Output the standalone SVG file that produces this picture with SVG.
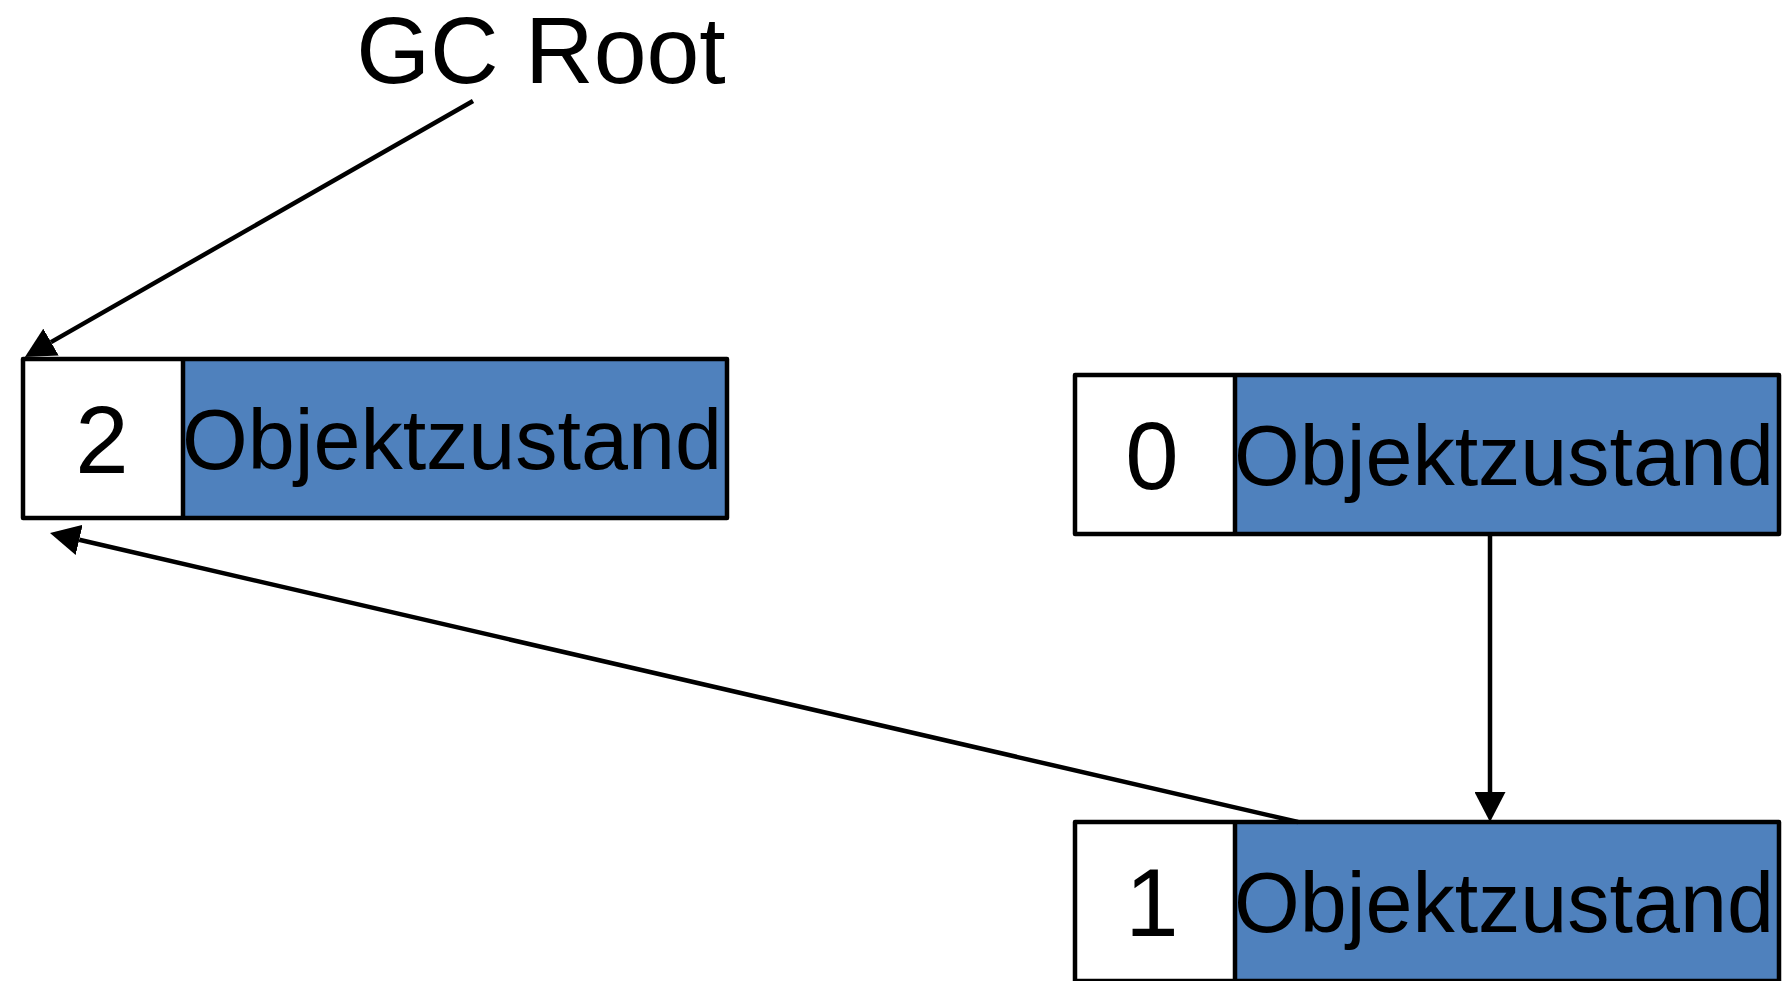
<svg xmlns="http://www.w3.org/2000/svg" width="1790" height="981" viewBox="0 0 1790 981">
  <style>
    .cell-id { fill: #ffffff; }
    .cell-state { fill: #4f81bd; }
    .frame { fill: none; stroke: #000000; stroke-width: 4.5; stroke-linejoin: round; }
    .divider { stroke: #000000; stroke-width: 4.5; }
    .num { font-family: "Liberation Sans", Arial, sans-serif; font-size: 96px; text-anchor: middle; fill: #000000; }
    .state { font-family: "Liberation Sans", Arial, sans-serif; font-size: 84.5px; text-anchor: middle; fill: #000000; }
    .title { font-family: "Liberation Sans", Arial, sans-serif; font-size: 95px; text-anchor: middle; fill: #000000; }
    .edge { stroke: #000000; stroke-width: 4.5; fill: none; }
  </style>
  <defs>
    <marker id="arrow" viewBox="0 0 30 31" refX="0" refY="15.5" markerWidth="30" markerHeight="31" markerUnits="userSpaceOnUse" orient="auto">
      <path d="M0,0 L30,15.5 L0,31 Z" fill="#000000"/>
    </marker>
  </defs>

  <rect width="1790" height="981" fill="#ffffff"/>

  <!-- root label -->
  <g id="gc-root">
    <text class="title" x="541" y="83">GC Root</text>
  </g>

  <!-- object with reference count 2 -->
  <g id="obj-2">
    <rect class="cell-id" x="23" y="359" width="160" height="159"/>
    <rect class="cell-state" x="183" y="359" width="544" height="159"/>
    <line class="divider" x1="183" y1="359" x2="183" y2="518"/>
    <rect class="frame" x="23" y="359" width="704" height="159"/>
    <text class="num" x="102" y="473">2</text>
    <text class="state" x="452" y="469">Objektzustand</text>
  </g>

  <!-- object with reference count 0 -->
  <g id="obj-0">
    <rect class="cell-id" x="1075" y="375" width="160" height="159"/>
    <rect class="cell-state" x="1235" y="375" width="544" height="159"/>
    <line class="divider" x1="1235" y1="375" x2="1235" y2="534"/>
    <rect class="frame" x="1075" y="375" width="704" height="159"/>
    <text class="num" x="1152" y="489">0</text>
    <text class="state" x="1504" y="485">Objektzustand</text>
  </g>

  <!-- object with reference count 1 -->
  <g id="obj-1">
    <rect class="cell-id" x="1075" y="822" width="160" height="159"/>
    <rect class="cell-state" x="1235" y="822" width="544" height="159"/>
    <line class="divider" x1="1235" y1="822" x2="1235" y2="981"/>
    <rect class="frame" x="1075" y="822" width="704" height="159"/>
    <text class="num" x="1152" y="936">1</text>
    <text class="state" x="1504" y="932">Objektzustand</text>
  </g>

  <!-- references -->
  <g id="connectors">
    <line class="edge" x1="473" y1="101" x2="51" y2="342.1" marker-end="url(#arrow)"/>
    <line class="edge" x1="1490" y1="534" x2="1490" y2="792" marker-end="url(#arrow)"/>
    <line class="edge" x1="1298" y1="822" x2="79.2" y2="539.8" marker-end="url(#arrow)"/>
  </g>
</svg>
